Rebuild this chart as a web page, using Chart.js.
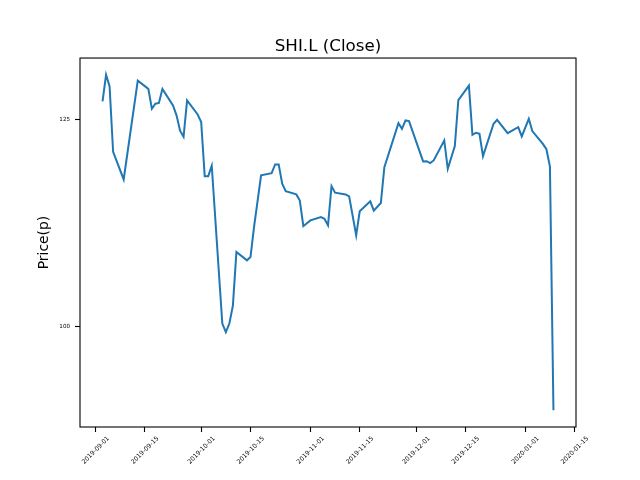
<!DOCTYPE html>
<html><head><meta charset="utf-8">
<script src="https://cdn.jsdelivr.net/npm/chart.js@4.4.1/dist/chart.umd.min.js"></script>
<style>html,body{margin:0;padding:0;background:#fff;}canvas{display:block;}</style>
</head><body>
<canvas id="c" width="640" height="480"></canvas>
<script>
const chartTitle = 'SHI.L (Close)';
const yAxisLabel = 'Price(p)';
const dates = [
 '2019-09-03','2019-09-04','2019-09-05','2019-09-06','2019-09-09','2019-09-13',
 '2019-09-16','2019-09-17','2019-09-18','2019-09-19','2019-09-20',
 '2019-09-23','2019-09-24','2019-09-25','2019-09-26','2019-09-27',
 '2019-09-30','2019-10-01','2019-10-02','2019-10-03','2019-10-04',
 '2019-10-07','2019-10-08','2019-10-09','2019-10-10','2019-10-11',
 '2019-10-14','2019-10-15','2019-10-16','2019-10-18',
 '2019-10-21','2019-10-22','2019-10-23','2019-10-24','2019-10-25',
 '2019-10-28','2019-10-29','2019-10-30','2019-11-01',
 '2019-11-04','2019-11-05','2019-11-06','2019-11-07','2019-11-08',
 '2019-11-11','2019-11-12','2019-11-14','2019-11-15',
 '2019-11-18','2019-11-19','2019-11-21','2019-11-22',
 '2019-11-26','2019-11-27','2019-11-28','2019-11-29',
 '2019-12-03','2019-12-04','2019-12-05','2019-12-06',
 '2019-12-09','2019-12-10','2019-12-12','2019-12-13',
 '2019-12-16','2019-12-17','2019-12-18','2019-12-19','2019-12-20',
 '2019-12-23','2019-12-24','2019-12-27','2019-12-30','2019-12-31',
 '2020-01-02','2020-01-03','2020-01-06','2020-01-07','2020-01-08','2020-01-09'
];
const closes = [
 127.2,130.4,129.0,121.1,117.75,129.7,
 128.7,126.3,126.9,127.0,128.7,
 126.7,125.5,123.65,122.9,127.3,
 125.6,124.7,118.15,118.15,119.4,
 100.33,99.3,100.33,102.5,108.97,
 107.97,108.37,111.99,118.24,
 118.5,119.57,119.57,117.23,116.34,
 115.94,115.2,112.1,112.8,
 113.2,113.0,112.2,116.95,116.15,
 115.94,115.7,111.0,113.9,
 115.1,113.97,114.9,119.24,
 124.55,123.87,124.88,124.8,
 119.93,119.96,119.72,120.05,
 122.46,119.04,121.78,127.35,
 129.1,123.15,123.4,123.27,120.57,
 124.48,124.96,123.35,124.07,122.95,
 125.08,123.59,122.05,121.4,119.3,89.85
];
const xTickDates = ['2019-09-01','2019-09-15','2019-10-01','2019-10-15','2019-11-01',
 '2019-11-15','2019-12-01','2019-12-15','2020-01-01','2020-01-15'];
const yTickValues = [100, 125];

const DAY = 86400000;
function toDay(s){const p=s.split('-').map(Number);return Date.UTC(p[0],p[1]-1,p[2])/DAY;}
function fmt(v){return new Date(Math.round(v)*DAY).toISOString().slice(0,10);}

const xs = dates.map(toDay);
const points = xs.map((x,i)=>({x:x, y:closes[i]}));
const xMin = Math.min(...xs), xMax = Math.max(...xs), xPad = (xMax-xMin)*0.05;
const yMin = Math.min(...closes), yMax = Math.max(...closes), yPad = (yMax-yMin)*0.05;

const FONT = 'DejaVu Sans';
const framePlugin = {
  id:'frame',
  afterDatasetsDraw(chart){
    const a = chart.chartArea, ctx = chart.ctx;
    ctx.save();
    ctx.strokeStyle = '#000';
    ctx.lineWidth = 1.1;
    ctx.strokeRect(a.left, a.top, a.right-a.left, a.bottom-a.top);
    ctx.restore();
  }
};

new Chart(document.getElementById('c'), {
  type:'line',
  data:{datasets:[{
    data:points, borderColor:'#1f77b4', borderWidth:2, pointRadius:0,
    pointHoverRadius:0, tension:0, fill:false
  }]},
  options:{
    responsive:false, animation:false, devicePixelRatio:1,
    layout:{padding:{left:16,right:0,top:0,bottom:0}},
    plugins:{
      legend:{display:false}, tooltip:{enabled:false},
      title:{display:true, text:chartTitle, color:'#000',
        font:{family:FONT, size:16.7, weight:'normal', lineHeight:1.2},
        padding:{top:37, bottom:1}}
    },
    scales:{
      x:{type:'linear', min:xMin-xPad, max:xMax+xPad,
        afterBuildTicks(s){ s.ticks = xTickDates.map(d=>({value:toDay(d)})); },
        afterFit(s){ s.height = 53; s.paddingLeft = 0; s.paddingRight = 0; },
        grid:{display:true, drawOnChartArea:false, drawTicks:true, tickLength:5, tickColor:'#000', tickWidth:1.1},
        border:{display:false},
        ticks:{autoSkip:false, minRotation:45, maxRotation:45, color:'#000', padding:3, labelOffset:13,
          font:{family:FONT, size:6.2}, callback:(v)=>fmt(v)}
      },
      y:{type:'linear', position:'left', min:yMin-yPad, max:yMax+yPad,
        afterBuildTicks(s){ s.ticks = yTickValues.map(v=>({value:v})); },
        afterFit(s){ s.width = 64; s.paddingTop = 0; s.paddingBottom = 0; },
        grid:{display:true, drawOnChartArea:false, drawTicks:true, tickLength:5, tickColor:'#000', tickWidth:1.1},
        border:{display:false},
        title:{display:true, text:yAxisLabel, color:'#000', font:{family:FONT, size:13.9, lineHeight:1.2}, padding:{top:20, bottom:0}},
        ticks:{color:'#000', padding:5, font:{family:FONT, size:5.6}, callback:(v)=>String(v)}
      },
      yRight:{type:'linear', position:'right', display:true, min:0, max:1,
        afterBuildTicks(s){ s.ticks = []; },
        afterFit(s){ s.width = 64; s.paddingTop = 0; s.paddingBottom = 0; },
        grid:{display:false, drawTicks:false}, border:{display:false},
        ticks:{display:false}
      }
    }
  },
  plugins:[framePlugin]
});
</script>
</body></html>
